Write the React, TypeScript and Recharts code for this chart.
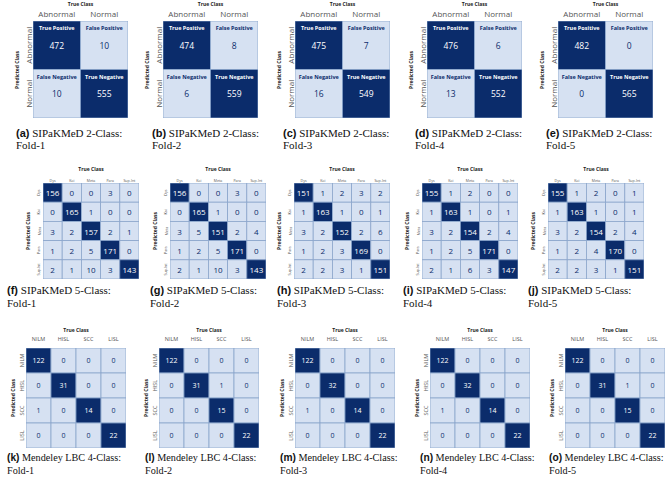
import { ScatterChart, Scatter, XAxis, YAxis } from 'recharts';

// class labels
const twoClassLabels = ['Abnormal', 'Normal'];
const fiveClassLabels = ['Dys', 'Koi', 'Meta', 'Para', 'Sup-Int'];
const fourClassLabels = ['NILM', 'HISL', 'SCC', 'LISL'];
const twoClassCellNames = [
  ['True Positive', 'False Positive'],
  ['False Negative', 'True Negative'],
];

// confusion matrices, rows = predicted, cols = true
const sipak2Folds = [
  [[472, 10], [10, 555]],
  [[474, 8], [6, 559]],
  [[475, 7], [16, 549]],
  [[476, 6], [13, 552]],
  [[482, 0], [0, 565]],
];

const sipak5Folds = [
  [[156, 0, 0, 3, 0], [0, 165, 1, 0, 0], [3, 2, 157, 2, 1], [1, 2, 5, 171, 0], [2, 1, 10, 3, 143]],
  [[156, 0, 0, 3, 0], [0, 165, 1, 0, 0], [3, 5, 151, 2, 4], [1, 2, 5, 171, 0], [2, 1, 10, 3, 143]],
  [[151, 1, 2, 3, 2], [1, 163, 1, 0, 1], [3, 2, 152, 2, 6], [1, 2, 3, 169, 0], [2, 2, 3, 1, 151]],
  [[155, 1, 2, 0, 0], [1, 163, 1, 0, 1], [3, 2, 154, 2, 4], [1, 2, 5, 171, 0], [2, 1, 6, 3, 147]],
  [[155, 1, 2, 0, 1], [1, 163, 1, 0, 1], [3, 2, 154, 2, 4], [1, 2, 4, 170, 0], [2, 2, 3, 1, 151]],
];

const lbc4Folds = [
  [[122, 0, 0, 0], [0, 31, 0, 0], [1, 0, 14, 0], [0, 0, 0, 22]],
  [[122, 0, 0, 0], [0, 31, 1, 0], [0, 0, 15, 0], [0, 0, 0, 22]],
  [[122, 0, 0, 0], [0, 32, 0, 0], [1, 0, 14, 0], [0, 0, 0, 22]],
  [[122, 0, 0, 0], [0, 32, 0, 0], [1, 0, 14, 0], [0, 0, 0, 22]],
  [[122, 0, 0, 0], [0, 31, 1, 0], [0, 0, 15, 0], [0, 0, 0, 22]],
];

const foldNames = ['Fold-1', 'Fold-2', 'Fold-3', 'Fold-4', 'Fold-5'];
const letters = ['a', 'b', 'c', 'd', 'e', 'f', 'g', 'h', 'i', 'j', 'k', 'l', 'm', 'n', 'o'];

const DARK = '#0b2c6b';
const LIGHT = '#d6e1f2';
const GRID = '#8ba5cb';
const PAD = 22;

const rows = [
  {
    title: 'SIPaKMeD 2-Class:', labels: twoClassLabels, folds: sipak2Folds, names: twoClassCellNames,
    lefts: [33, 163, 295, 427, 558], top: 21, w: 95, h: 97,
    tickFont: 8, valueFont: 8.5, predX: -16, rowLabX: -5, colLabY: -8, trueY: -17,
    capXs: [16, 152, 283, 415, 546], capTop: 127, capFont: 11, capLh: 12,
  },
  {
    title: 'SIPaKMeD 5-Class:', labels: fiveClassLabels, folds: sipak5Folds, names: null,
    lefts: [43, 170, 294, 422, 548], top: 183, w: 96, h: 96,
    tickFont: 3.6, valueFont: 8, predX: -15, rowLabX: -4, colLabY: -3, trueY: -14,
    capXs: [7, 150, 277, 403, 528], capTop: 284, capFont: 11, capLh: 12.5,
  },
  {
    title: 'Mendeley LBC 4-Class:', labels: fourClassLabels, folds: lbc4Folds, names: null,
    lefts: [26, 159, 295, 430, 565], top: 348, w: 100, h: 100,
    tickFont: 5.5, valueFont: 7, predX: -13, rowLabX: -4, colLabY: -9, trueY: -18,
    capXs: [7, 145, 280, 420, 549], capTop: 451, capFont: 10.2, capLh: 13,
  },
];

const Matrix = ({ row, fold, idx }: any) => {
  const values: number[][] = row.folds[fold];
  const n = values.length;
  const cw = row.w / n;
  const ch = row.h / n;
  const centers = values.map((_, i) => i + 0.5);
  const data = values.flatMap((r, i) => r.map((v, j) => ({ x: j + 0.5, y: i + 0.5, v, r: i, c: j })));

  const cell = (p: any) => {
    const { cx, cy, payload } = p;
    const dark = payload.r === payload.c;
    const fg = dark ? '#ffffff' : DARK;
    return (
      <g>
        <rect x={cx - cw / 2} y={cy - ch / 2} width={cw} height={ch} fill={dark ? DARK : LIGHT} stroke={GRID} strokeWidth={0.8} />
        {row.names && (
          <text x={cx} y={cy - ch / 2 + 7} textAnchor="middle" dominantBaseline="central" fontSize={5.5} fontWeight="bold" fill={fg} fontFamily="Open Sans">
            {row.names[payload.r][payload.c]}
          </text>
        )}
        <text x={cx} y={cy} textAnchor="middle" dominantBaseline="central" fontSize={row.valueFont} fill={fg} fontFamily="Open Sans">
          {payload.v}
        </text>
      </g>
    );
  };

  const left = row.lefts[fold];

  return (
    <>
      <div style={{ position: 'absolute', left: left - PAD, top: row.top - PAD }}>
        <ScatterChart width={PAD + row.w + 2} height={PAD + row.h + 2} margin={{ top: 0, right: 2, bottom: 2, left: 0 }}>
          <XAxis
            type="number" dataKey="x" domain={[0, n]} ticks={centers} interval={0} orientation="top" height={PAD}
            axisLine={false} tickLine={false} allowDataOverflow
            tick={(p: any) => (
              <text x={p.x} y={PAD + row.colLabY} textAnchor="middle" dominantBaseline="central" fontSize={row.tickFont} fill="#555" fontFamily="Open Sans">
                {row.labels[Math.floor(p.payload.value)]}
              </text>
            )}
          />
          <YAxis
            type="number" dataKey="y" domain={[0, n]} ticks={centers} interval={0} reversed width={PAD}
            axisLine={false} tickLine={false} allowDataOverflow
            tick={(p: any) => {
              const tx = PAD + row.rowLabX;
              return (
                <text x={tx} y={p.y} transform={`rotate(-90 ${tx} ${p.y})`} textAnchor="middle" dominantBaseline="central" fontSize={row.tickFont} fill="#555" fontFamily="Open Sans">
                  {row.labels[Math.floor(p.payload.value)]}
                </text>
              );
            }}
          />
          <Scatter data={data} shape={cell} isAnimationActive={false} />
        </ScatterChart>
      </div>
      <div style={{ position: 'absolute', left, top: row.top + row.trueY - 4, width: row.w, textAlign: 'center', fontFamily: 'Open Sans', fontWeight: 700, fontSize: 5, lineHeight: '8px', color: '#222' }}>
        True Class
      </div>
      <div style={{ position: 'absolute', left: left + row.predX - 40, top: row.top + row.h / 2 - 4, width: 80, textAlign: 'center', transform: 'rotate(-90deg)', fontFamily: 'Open Sans', fontWeight: 700, fontSize: 5, lineHeight: '8px', color: '#222' }}>
        Predicted Class
      </div>
      <div style={{ position: 'absolute', left: row.capXs[fold], top: row.capTop, fontFamily: 'Liberation Serif', fontSize: row.capFont, lineHeight: `${row.capLh}px`, color: '#111', whiteSpace: 'nowrap' }}>
        <b style={{ fontFamily: 'Liberation Sans' }}>({letters[idx]})</b> {row.title}
        <br />
        {foldNames[fold]}
      </div>
    </>
  );
};

export default function App() {
  return (
    <div style={{ position: 'absolute', left: 0, top: 0, width: 669, height: 477, background: '#fff', overflow: 'hidden' }}>
      {rows.map((row, ri) =>
        foldNames.map((_, fi) => <Matrix key={`${ri}-${fi}`} row={row} fold={fi} idx={ri * 5 + fi} />)
      )}
    </div>
  );
}
